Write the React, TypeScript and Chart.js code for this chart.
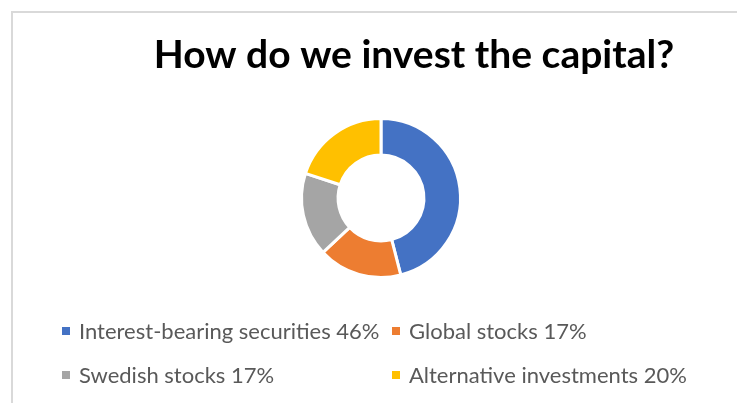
import React, { useEffect, useRef } from "react";
import { Chart, registerables } from "chart.js";

Chart.register(...registerables);

const TITLE = "How do we invest the capital?";
const categories = [
  "Interest-bearing securities",
  "Global stocks",
  "Swedish stocks",
  "Alternative investments",
];
const shares = [46, 17, 17, 20];
const colors = ["#4472C4", "#ED7D31", "#A5A5A5", "#FFC000"];

const W = 737;
const H = 403;

const decorPlugin = {
  id: "decor",
  beforeDraw(chart: any) {
    const ctx = chart.ctx as CanvasRenderingContext2D;
    ctx.save();
    ctx.fillStyle = "#ffffff";
    ctx.fillRect(0, 0, W, H);
    ctx.strokeStyle = "#d9d9d9";
    ctx.lineWidth = 2;
    ctx.beginPath();
    ctx.moveTo(12, H + 5);
    ctx.lineTo(12, 12);
    ctx.lineTo(W + 5, 12);
    ctx.stroke();
    ctx.restore();
  },
  afterDraw(chart: any) {
    const ctx = chart.ctx as CanvasRenderingContext2D;
    ctx.save();
    ctx.fillStyle = "#000000";
    ctx.font = "bold 39px Lato";
    ctx.textAlign = "center";
    ctx.textBaseline = "alphabetic";
    ctx.fillText(TITLE, 414, 68);

    const cols = [62, 392];
    const rows = [339, 383];
    ctx.font = "22px Lato";
    ctx.textAlign = "left";
    categories.forEach((c, i) => {
      const x = cols[i % 2];
      const y = rows[Math.floor(i / 2)];
      ctx.fillStyle = colors[i];
      ctx.fillRect(x, y - 12, 8, 8);
      ctx.fillStyle = "#595959";
      ctx.fillText(`${c} ${shares[i]}%`, x + 17, y);
    });
    ctx.restore();
  },
};

export default function App() {
  const ref = useRef<HTMLCanvasElement | null>(null);
  useEffect(() => {
    document.body.style.margin = "0";
    if (!ref.current) return;
    const cx = 381;
    const cy = 198;
    const r = 81;
    const chart = new Chart(ref.current, {
      type: "doughnut",
      data: {
        labels: categories,
        datasets: [
          {
            data: shares,
            backgroundColor: colors,
            borderColor: "#ffffff",
            borderWidth: 3,
          },
        ],
      },
      options: {
        responsive: false,
        animation: false,
        cutout: "54%",
        layout: {
          padding: {
            left: cx - r,
            right: W - (cx + r),
            top: cy - r,
            bottom: H - (cy + r),
          },
        },
        plugins: {
          legend: { display: false },
          title: { display: false },
          tooltip: { enabled: false },
        },
      },
      plugins: [decorPlugin],
    });
    return () => chart.destroy();
  }, []);
  return (
    <div style={{ width: W, height: H }}>
      <canvas ref={ref} width={W} height={H} style={{ display: "block", width: W, height: H }} />
    </div>
  );
}
